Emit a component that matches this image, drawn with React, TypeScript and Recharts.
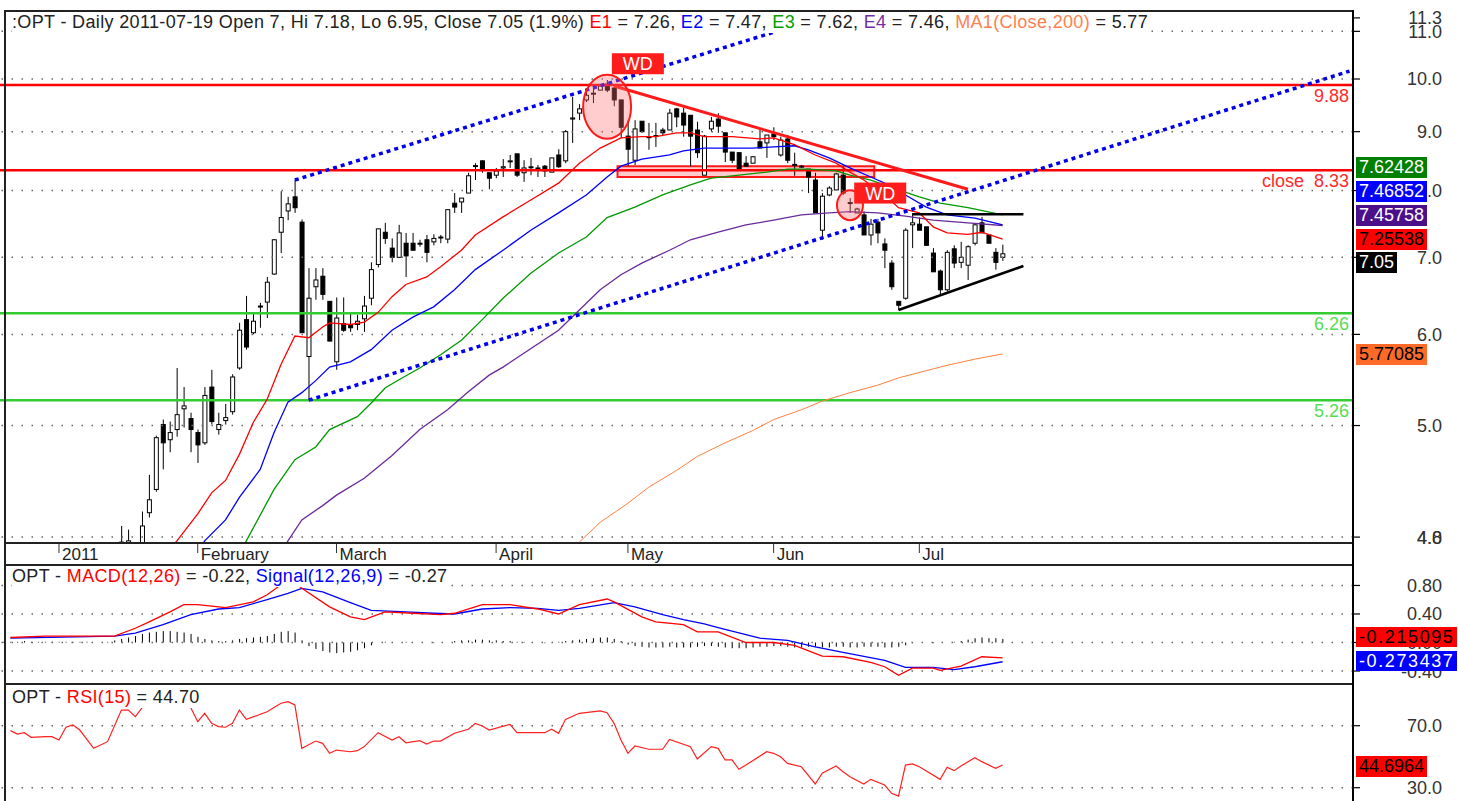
import React from 'react';
import {
  ComposedChart, Bar, Line, XAxis, YAxis, ReferenceLine, ReferenceArea, ReferenceDot,
} from 'recharts';

const FONT = '"Liberation Sans", Arial, Helvetica, sans-serif';
const W = 1458;
const AXIS_W = 105;
const SLOTS = 195; // bar slots across the panel, incl. the blank space on the right

// x axis: bar index of the first session of each month
const MONTH_IDX = [8, 28, 48, 71, 90, 111, 132];
const MONTH_LABELS = ['2011', 'February', 'March', 'April', 'May', 'Jun', 'Jul'];

// daily candles, bar 17 .. bar 144 (2011-07-19)
const FIRST_BAR = 17;
const OPEN = [
  3.95, 3.95, null, 3.92, 4.20, 4.40, 5.01, 4.86, 4.96, 5.17,
  5.07, 4.93, 4.83, 5.40, 4.96, 5.05, 5.14, 5.61, 6.18, 6.02,
  6.34, 6.40, 6.77, 7.36, 7.68, 7.90, 7.51, 5.74, 6.60, 6.74,
  6.41, 5.68, 6.13, 6.12, 6.12, 6.19, 6.45, 6.90, 7.36, 7.13,
  7.00, 7.20, 7.20, 7.19, 7.25, 7.22, 7.28, 7.26, 7.80, 7.82,
  7.96, 8.40, 8.49, 8.29, 8.25, 8.37, 8.48, 8.61, 8.29, 8.38,
  8.37, 8.40, 8.30, 8.59, 8.49, 9.23, 9.34, 9.59, 9.70, 9.78,
  9.90, 9.82, 9.59, 8.92, 8.50, 9.19, 8.90, 8.92, 9.03, 9.03,
  9.42, 9.34, 9.30, 9.03, 8.25, 9.05, 9.23, 8.98, 8.64, 8.63,
  8.45, 8.45, 8.82, 8.80, 8.96, 8.59, 8.87, 8.42, 8.39, 8.35,
  8.17, 7.39, 7.93, 8.01, 8.25, 7.80, 7.65, 7.62, 7.32, 7.51,
  7.19, 6.92, 6.41, 6.45, 7.47, 7.48, 7.44, 7.06, 6.81, 6.56,
  7.12, 6.93, 6.89, 7.20, 7.50, 7.32, 7.07, 7.00,
];
const HIGH = [
  4.09, 4.06, null, 4.21, 4.53, 4.90, 5.06, 5.04, 5.61, 5.40,
  5.13, 4.96, 5.40, 5.59, 5.13, 5.22, 5.54, 6.14, 6.48, 6.26,
  6.39, 6.73, 7.26, 7.99, 7.90, 8.17, 7.55, 6.85, 6.85, 6.85,
  6.41, 6.46, 6.46, 6.26, 6.24, 6.48, 6.93, 7.41, 7.50, 7.27,
  7.47, 7.35, 7.35, 7.25, 7.32, 7.33, 7.32, 7.70, 7.96, 7.88,
  8.29, 8.45, 8.50, 8.29, 8.37, 8.52, 8.59, 8.61, 8.50, 8.54,
  8.42, 8.42, 8.54, 8.69, 9.03, 9.65, 9.51, 9.78, 9.82, 9.88,
  9.98, 9.90, 9.59, 9.21, 9.21, 9.19, 9.16, 9.16, 9.07, 9.42,
  9.44, 9.44, 9.30, 9.18, 8.94, 9.27, 9.34, 8.98, 8.64, 8.63,
  8.57, 8.57, 9.07, 8.94, 9.08, 8.91, 8.94, 8.63, 8.42, 8.35,
  8.29, 7.96, 8.07, 8.29, 8.39, 7.88, 7.73, 7.67, 7.56, 7.56,
  7.27, 6.96, 6.41, 7.42, 7.65, 7.58, 7.44, 7.13, 6.83, 7.10,
  7.17, 7.22, 7.17, 7.48, 7.59, 7.32, 7.13, 7.18,
];
const LOW = [
  3.85, 3.88, null, 3.90, 4.16, 4.38, 4.58, 4.74, 4.89, 4.98,
  4.74, 4.64, 4.81, 5.01, 4.91, 5.01, 5.11, 5.59, 5.82, 6.00,
  6.08, 6.20, 6.76, 7.06, 7.54, 7.65, 6.02, 5.26, 6.43, 6.43,
  5.92, 5.59, 6.03, 6.03, 6.05, 6.03, 6.36, 6.86, 7.19, 6.93,
  6.99, 6.73, 7.10, 7.15, 6.93, 7.17, 7.20, 7.20, 7.65, 7.65,
  7.96, 8.17, 8.29, 8.02, 8.20, 8.22, 8.37, 8.22, 8.14, 8.25,
  8.22, 8.22, 8.30, 8.37, 8.45, 8.80, 9.21, 9.55, 9.53, 9.78,
  9.74, 9.47, 8.89, 8.40, 8.42, 8.98, 8.68, 8.73, 8.94, 9.03,
  9.08, 8.91, 8.40, 8.54, 8.25, 9.00, 8.98, 8.47, 8.45, 8.34,
  8.40, 8.45, 8.71, 8.54, 8.85, 8.56, 8.45, 8.24, 8.37, 7.96,
  7.65, 7.25, 7.91, 8.01, 7.93, 7.65, 7.65, 7.32, 7.17, 7.20,
  6.85, 6.56, 6.30, 6.43, 7.13, 7.39, 7.17, 6.80, 6.49, 6.54,
  6.85, 6.85, 6.69, 7.17, 7.35, 7.20, 6.83, 6.95,
];
const CLOSE = [
  3.96, 3.97, null, 4.09, 4.31, 4.88, 4.83, 4.93, 5.11, 5.20,
  4.96, 4.81, 5.31, 5.04, 5.01, 5.08, 5.51, 6.05, 5.85, 6.16,
  6.35, 6.66, 7.25, 7.58, 7.79, 7.73, 6.02, 6.45, 6.69, 6.50,
  5.92, 6.20, 6.05, 6.08, 6.16, 6.35, 6.83, 7.41, 7.27, 7.00,
  7.35, 7.02, 7.10, 7.20, 7.07, 7.27, 7.29, 7.70, 7.74, 7.88,
  8.24, 8.41, 8.34, 8.20, 8.32, 8.39, 8.49, 8.25, 8.37, 8.39,
  8.36, 8.32, 8.54, 8.39, 9.00, 9.25, 9.42, 9.68, 9.72, 9.86,
  9.78, 9.59, 9.08, 8.69, 9.05, 9.00, 8.91, 8.93, 8.98, 9.34,
  9.27, 9.12, 8.92, 8.63, 8.92, 9.19, 9.10, 8.64, 8.50, 8.35,
  8.40, 8.56, 8.71, 8.94, 8.91, 8.85, 8.50, 8.43, 8.40, 8.22,
  7.65, 7.91, 8.04, 8.27, 7.96, 7.81, 7.71, 7.32, 7.48, 7.35,
  7.10, 6.60, 6.36, 7.39, 7.50, 7.39, 7.17, 6.80, 6.56, 7.07,
  6.92, 7.00, 7.15, 7.47, 7.35, 7.20, 6.93, 7.05,
];

// moving averages, [bar, value]
const E1 = [[23, 3.85], [25, 3.97], [28, 4.19], [30, 4.37], [32, 4.48], [34, 4.72], [36, 5.03], [38, 5.27], [40, 5.65], [42, 5.98], [44, 5.96], [46, 6.09], [47, 6.14], [50, 6.12], [52, 6.15], [54, 6.27], [56, 6.47], [58, 6.63], [61, 6.73], [63, 6.87], [66, 7.10], [68, 7.32], [72, 7.59], [76, 7.85], [80, 8.12], [83, 8.45], [86, 8.71], [89, 8.89], [92, 8.91], [94, 8.91], [97, 8.98], [99, 8.98], [101, 8.91], [105, 8.91], [109, 8.87], [111, 8.89], [114, 8.77], [117, 8.59], [120, 8.45], [122, 8.30], [124, 8.17], [127, 7.93], [129, 7.73], [132, 7.65], [134, 7.44], [136, 7.35], [139, 7.33], [141, 7.36], [144, 7.26]];
const E2 = [[28, 3.88], [29, 3.97], [32, 4.14], [34, 4.33], [37, 4.58], [39, 4.93], [41, 5.24], [43, 5.34], [45, 5.47], [47, 5.62], [50, 5.68], [53, 5.82], [56, 6.05], [59, 6.21], [62, 6.34], [65, 6.56], [68, 6.83], [72, 7.10], [76, 7.39], [80, 7.65], [84, 7.93], [87, 8.22], [89, 8.40], [92, 8.52], [96, 8.59], [98, 8.66], [101, 8.71], [105, 8.71], [108, 8.71], [111, 8.73], [114, 8.75], [116, 8.68], [119, 8.54], [122, 8.37], [125, 8.22], [127, 8.12], [130, 7.93], [133, 7.74], [136, 7.62], [140, 7.57], [144, 7.47]];
const E3 = [[34, 3.88], [35, 3.97], [39, 4.40], [42, 4.67], [45, 4.79], [47, 4.96], [51, 5.09], [53, 5.23], [55, 5.39], [57, 5.48], [60, 5.61], [63, 5.76], [66, 5.93], [69, 6.18], [72, 6.45], [76, 6.78], [80, 7.06], [84, 7.29], [87, 7.58], [91, 7.74], [95, 7.93], [99, 8.09], [102, 8.20], [106, 8.25], [110, 8.30], [113, 8.35], [116, 8.35], [120, 8.32], [122, 8.25], [125, 8.17], [129, 8.01], [132, 7.90], [135, 7.80], [139, 7.73], [144, 7.62]];
const E4 = [[40, 3.88], [41, 3.97], [43, 4.14], [46, 4.26], [48, 4.35], [52, 4.50], [56, 4.71], [60, 4.96], [64, 5.16], [67, 5.35], [70, 5.53], [72, 5.62], [80, 6.05], [83, 6.30], [86, 6.56], [89, 6.76], [92, 6.92], [96, 7.10], [99, 7.25], [103, 7.36], [107, 7.47], [111, 7.54], [115, 7.62], [119, 7.65], [122, 7.67], [126, 7.65], [130, 7.60], [134, 7.54], [139, 7.50], [144, 7.46]];
const MA200 = [[81, 3.88], [83, 3.96], [86, 4.12], [90, 4.28], [93, 4.42], [97, 4.57], [100, 4.70], [104, 4.83], [108, 4.95], [111, 5.06], [115, 5.16], [118, 5.25], [122, 5.34], [126, 5.42], [129, 5.50], [133, 5.58], [136, 5.64], [140, 5.71], [144, 5.77]];

// MACD pane
const MACD = [[1, 0.07], [6, 0.09], [16, 0.09], [19, 0.20], [21, 0.29], [24, 0.43], [26, 0.53], [28, 0.53], [32, 0.49], [36, 0.57], [38, 0.67], [40, 0.81], [42, 0.84], [43, 0.76], [47, 0.50], [50, 0.36], [52, 0.32], [55, 0.43], [59, 0.41], [63, 0.39], [65, 0.41], [69, 0.53], [73, 0.53], [77, 0.47], [80, 0.40], [83, 0.53], [87, 0.61], [88, 0.57], [92, 0.36], [94, 0.29], [98, 0.25], [100, 0.15], [103, 0.15], [107, 0.00], [111, 0.00], [114, -0.04], [118, -0.19], [121, -0.20], [125, -0.28], [127, -0.34], [128, -0.40], [129, -0.46], [131, -0.36], [134, -0.36], [135, -0.39], [138, -0.33], [141, -0.20], [144, -0.215]];
const SIGNAL = [[1, 0.06], [16, 0.09], [19, 0.13], [23, 0.25], [27, 0.39], [31, 0.47], [34, 0.49], [38, 0.60], [41, 0.69], [43, 0.76], [46, 0.71], [50, 0.56], [53, 0.45], [58, 0.43], [62, 0.41], [65, 0.40], [69, 0.47], [73, 0.49], [77, 0.48], [80, 0.45], [83, 0.48], [88, 0.56], [91, 0.50], [95, 0.39], [98, 0.32], [101, 0.26], [103, 0.21], [109, 0.06], [113, 0.03], [117, -0.06], [121, -0.14], [127, -0.25], [130, -0.35], [134, -0.35], [137, -0.38], [140, -0.34], [144, -0.27]];
// histogram, bar 0 .. 144
const HIST = [
  0.01, 0.01, 0.01, 0.02, 0.01, 0.01, 0.01, 0.01, 0.01, 0.01, 0.01, 0.01, 0.01, 0.00, 0.00, 0.01,
  0.03, 0.05, 0.07, 0.09, 0.12, 0.14, 0.15, 0.16, 0.16, 0.15, 0.14, 0.12,
  0.08, 0.05, 0.03, 0.02, 0.02, 0.03,
  0.05, 0.06, 0.07, 0.08, 0.09,
  0.12, 0.15, 0.16, 0.14,
  0.03,
  -0.05, -0.09, -0.12, -0.14, -0.15, -0.14, -0.13, -0.11, -0.08, -0.04,
  0.00, 0.01, 0.00, 0.00, 0.01, 0.00, 0.00, 0.00, -0.01, 0.00, 0.00,
  0.02, 0.03, 0.03, 0.04, 0.04, 0.03, 0.03, 0.02, 0.02, 0.01, 0.01, 0.00, 0.00, -0.01, 0.00, 0.01, 0.02, 0.03, 0.04,
  0.05, 0.06, 0.07, 0.07, 0.05, 0.02,
  -0.03, -0.05, -0.06, -0.07, -0.07, -0.07, -0.06, -0.07, -0.07, -0.07, -0.06,
  -0.05, -0.05, -0.06, -0.07, -0.08, -0.08, -0.08, -0.07, -0.06, -0.06, -0.05, -0.05, -0.06, -0.07, -0.07,
  -0.06, -0.06, -0.07, -0.07, -0.06, -0.06, -0.07, -0.07, -0.06, -0.06, -0.06, -0.07, -0.07, -0.06, -0.04,
  -0.01, 0.00, 0.00, -0.01, 0.00, 0.00, 0.01,
  0.02, 0.04, 0.06, 0.07, 0.06, 0.06, 0.05,
];

// RSI pane (the line has a break after bar 20)
const RSI_A = [[1, 66.8], [2, 64.6], [3, 65.5], [4, 62.5], [6, 62.9], [7, 62.9], [8, 60.8], [9, 69.0], [10, 70.5], [11, 67.2], [13, 55.4], [15, 59.7], [17, 80.1], [18, 80.1], [19, 75.8], [20, 81.6]];
const RSI_B = [[27, 81.6], [28, 72.6], [29, 78.0], [30, 71.5], [31, 69.4], [32, 69.0], [33, 71.5], [34, 80.1], [35, 74.1], [38, 79.0], [40, 84.5], [41, 85.5], [42, 83.4], [43, 55.4], [45, 60.1], [46, 58.6], [47, 52.2], [48, 54.3], [50, 53.2], [51, 53.9], [52, 56.5], [54, 65.5], [56, 60.8], [57, 62.9], [58, 59.0], [60, 60.3], [61, 58.2], [62, 60.1], [63, 60.1], [65, 65.1], [67, 67.7], [68, 71.5], [69, 69.8], [70, 67.2], [73, 70.9], [74, 65.5], [78, 65.5], [79, 67.7], [80, 65.1], [81, 74.1], [83, 78.0], [86, 79.5], [87, 78.4], [88, 71.5], [89, 60.8], [90, 52.2], [91, 56.9], [93, 54.8], [95, 54.8], [96, 61.2], [99, 56.5], [100, 48.5], [102, 56.5], [103, 55.4], [104, 47.9], [105, 47.9], [106, 41.9], [107, 44.6], [110, 53.2], [111, 52.2], [112, 50.0], [113, 45.7], [115, 43.5], [117, 32.4], [118, 39.3], [120, 44.0], [121, 40.3], [122, 37.1], [124, 32.4], [125, 35.4], [127, 31.7], [128, 26.4], [129, 24.6], [130, 44.6], [131, 45.3], [132, 43.5], [135, 35.4], [136, 43.2], [137, 41.0], [138, 44.0], [140, 49.4], [141, 46.8], [143, 42.5], [144, 44.7]];

// axis ticks
const PRICE_TICKS = [4, 5, 6, 7, 8, 9, 10, 11, 11.3];
const PRICE_GRID = [4, 5, 6, 7, 8, 9, 10, 11];
const MACD_TICKS = [0.8, 0.4, 0, -0.4];
const RSI_TICKS = [70, 30];

// drawn studies
const LEVELS = [
  { y: 9.88, color: '#ff0000', text: '9.88', textColor: '#ff2a2a' },
  { y: 8.33, color: '#ff0000', text: 'close\u00a0\u00a08.33', textColor: '#ff2a2a' },
  { y: 6.26, color: '#33cc33', text: '6.26', textColor: '#55dd55' },
  { y: 5.26, color: '#33cc33', text: '5.26', textColor: '#55dd55' },
];
const TRENDS = [
  { a: [42, 8.17], b: [111, 10.98], color: '#0000ee', w: 3.5, dash: '4 4' },
  { a: [44, 5.26], b: [194, 10.16], color: '#0000ee', w: 3.5, dash: '4 4' },
  { a: [88, 9.86], b: [139, 8.02], color: '#ff1a1a', w: 3, dash: undefined },
  { a: [131, 7.63], b: [147, 7.63], color: '#000000', w: 2.5, dash: undefined },
  { a: [129, 6.30], b: [147, 6.88], color: '#000000', w: 2.5, dash: undefined },
];

// value tags on the right axis
const TAGS = [
  { text: '7.62428', bg: '#008000', fg: '#fff', top: 157, wide: false },
  { text: '7.46852', bg: '#0000ff', fg: '#fff', top: 181, wide: false },
  { text: '7.45758', bg: '#4b0f8c', fg: '#fff', top: 205, wide: false },
  { text: '7.25538', bg: '#ff0000', fg: '#000', top: 229, wide: false },
  { text: '7.05', bg: '#000000', fg: '#fff', top: 252, wide: false },
  { text: '5.77085', bg: '#ff6a28', fg: '#000', top: 344, wide: false },
  { text: '-0.215095', bg: '#ff0000', fg: '#000', top: 627, wide: true },
  { text: '-0.273437', bg: '#0000ff', fg: '#fff', top: 651, wide: true },
  { text: '44.6964', bg: '#ff0000', fg: '#000', top: 756, wide: false },
];

const TITLE = [
  [':OPT - Daily 2011-07-19 Open 7, Hi 7.18, Lo 6.95, Close 7.05 (1.9%) ', '#222'],
  ['E1', '#ff0000'], [' = 7.26, ', '#222'],
  ['E2', '#0000ff'], [' = 7.47, ', '#222'],
  ['E3', '#00a000'], [' = 7.62, ', '#222'],
  ['E4', '#7030a0'], [' = 7.46, ', '#222'],
  ['MA1(Close,200)', '#ff7f50'], [' = 5.77', '#222'],
];
const MACD_TITLE = [['OPT - ', '#222'], ['MACD(12,26)', '#ff0000'], [' = -0.22, ', '#222'], ['Signal(12,26,9)', '#0000ff'], [' = -0.27', '#222']];
const RSI_TITLE = [['OPT - ', '#222'], ['RSI(15)', '#ff0000'], [' = 44.70', '#222']];

// one row per bar slot
const rows: any[] = Array.from({ length: SLOTS }, (_, i) => ({ i }));
OPEN.forEach((o, k) => {
  if (o == null) return;
  const r = rows[FIRST_BAR + k];
  r.o = o; r.h = HIGH[k]; r.l = LOW[k]; r.c = CLOSE[k];
  r.hl = [LOW[k], HIGH[k]];
});
const put = (pts: number[][], key: string) => pts.forEach(([i, v]) => { rows[i][key] = v; });
put(E1, 'e1'); put(E2, 'e2'); put(E3, 'e3'); put(E4, 'e4'); put(MA200, 'ma');
put(MACD, 'macd'); put(SIGNAL, 'signal'); put(RSI_A, 'rsiA'); put(RSI_B, 'rsiB');
HIST.forEach((v, i) => { rows[i].hist = v; });

const Candle = (p: any) => {
  const d = p.payload;
  if (!d || d.o == null) return null;
  const top = Math.min(p.y, p.y + p.height);
  const bot = Math.max(p.y, p.y + p.height);
  const lh = Math.log(d.h);
  const ll = Math.log(d.l);
  // position inside the high-low range on the log price scale
  const at = (v: number) => (lh === ll ? top : top + ((bot - top) * (lh - Math.log(v))) / (lh - ll));
  const cx = p.x + p.width / 2;
  const yo = at(d.o);
  const yc = at(d.c);
  return (
    <g>
      <line x1={cx} x2={cx} y1={top} y2={bot} stroke="#000" strokeWidth={1} />
      <rect x={cx - 2} y={Math.min(yo, yc)} width={4} height={Math.max(Math.abs(yc - yo), 1)}
        fill={d.c >= d.o ? '#fff' : '#000'} stroke="#000" strokeWidth={1} />
    </g>
  );
};

const HistBar = (p: any) => {
  const cx = p.x + p.width / 2;
  return <line x1={cx} x2={cx} y1={Math.min(p.y, p.y + p.height)} y2={Math.max(p.y, p.y + p.height)} stroke="#000" strokeWidth={1} />;
};

const makeTick = (digits: number) => (p: any) => {
  const v = p.payload.value;
  return (
    <g>
      <line x1={1352} x2={1360} y1={p.y} y2={p.y} stroke="#000" strokeWidth={1.2} />
      <text x={1442} y={p.y + 6.5} textAnchor="end" fontSize={18} fill="#333">{v.toFixed(digits)}</text>
      {v === 4 && <text x={1442} y={p.y + 6.5} textAnchor="end" fontSize={18} fill="#333">4.8</text>}
    </g>
  );
};
const PriceTick = makeTick(1);
const MacdTick = makeTick(2);
const RsiTick = makeTick(1);

const MonthTick = (p: any) => (
  <g>
    <line x1={p.x} x2={p.x} y1={p.y} y2={p.y + 10} stroke="#333" strokeWidth={1} />
    <text x={p.x + 3} y={p.y + 17} fontSize={17} fill="#222">{MONTH_LABELS[MONTH_IDX.indexOf(p.payload.value)]}</text>
  </g>
);

const Ellipse = (p: any) => (
  <ellipse cx={p.cx} cy={p.cy} rx={24} ry={32} fill="#ff7070" fillOpacity={0.35} stroke="#ff1a1a" strokeWidth={2} />
);
const SmallRing = (p: any) => (
  <ellipse cx={p.cx} cy={p.cy} rx={13} ry={15} fill="#ff7070" fillOpacity={0.35} stroke="#ff1a1a" strokeWidth={2} />
);
const wdBox = (dx: number) => (p: any) => (
  <g>
    <rect x={p.cx + dx - 26} y={p.cy - 10.5} width={52} height={21} fill="#ff1c1c" />
    <text x={p.cx + dx} y={p.cy + 6.5} textAnchor="middle" fill="#fff" fontSize={18}>WD</text>
  </g>
);

const dotted = { stroke: '#666', strokeWidth: 1.5, strokeDasharray: '1.5 8.5' };
const noMargin = { top: 0, right: 0, bottom: 0, left: 0 };

const Title = ({ parts, top }: { parts: string[][]; top: number }) => (
  <div style={{ position: 'absolute', left: 12, top, fontSize: 18, letterSpacing: '0.35px', lineHeight: '21px', whiteSpace: 'pre', background: '#fff' }}>
    {parts.map(([t, c], k) => <span key={k} style={{ color: c }}>{t}</span>)}
  </div>
);

const rule = (style: React.CSSProperties) => <div style={{ position: 'absolute', background: '#222', ...style }} />;

export default function App() {
  return (
    <div style={{ position: 'absolute', left: 0, top: 0, width: W, height: 801, background: '#fff', overflow: 'hidden', fontFamily: FONT }}>
      <div style={{ position: 'absolute', left: 0, top: 11 }}>
        <ComposedChart width={W} height={554} data={rows} margin={noMargin}>
          <XAxis dataKey="i" scale="band" ticks={MONTH_IDX} interval={0} height={22} tickSize={0} tickMargin={0}
            axisLine={false} tickLine={false} tick={MonthTick} />
          <YAxis orientation="right" width={AXIS_W} scale="log" domain={[3.953, 11.457]} allowDataOverflow
            ticks={PRICE_TICKS} interval={0} axisLine={false} tickLine={false} tick={PriceTick} />
          {PRICE_GRID.map((v) => <ReferenceLine key={v} y={v} {...dotted} />)}
          {LEVELS.map((l) => (
            <ReferenceLine key={l.y} y={l.y} stroke={l.color} strokeWidth={2.5}
              label={{ value: l.text, position: 'insideTopRight', offset: 4, fill: l.textColor, fontSize: 18 }} />
          ))}
          <ReferenceArea x1={89} x2={125} y1={8.22} y2={8.40} fill="#ff7070" fillOpacity={0.35} stroke="#ff1a1a" strokeWidth={2} />
          <ReferenceDot x={87} y={9.46} r={24} shape={Ellipse} />
          <ReferenceDot x={122} y={7.77} r={13} shape={SmallRing} />
          <Bar dataKey="hl" shape={Candle} isAnimationActive={false} />
          <Line dataKey="ma" stroke="#ff8040" strokeWidth={1} dot={false} connectNulls isAnimationActive={false} />
          <Line dataKey="e4" stroke="#6a2a9a" strokeWidth={1.3} dot={false} connectNulls isAnimationActive={false} />
          <Line dataKey="e3" stroke="#009900" strokeWidth={1.3} dot={false} connectNulls isAnimationActive={false} />
          <Line dataKey="e2" stroke="#0000ff" strokeWidth={1.3} dot={false} connectNulls isAnimationActive={false} />
          <Line dataKey="e1" stroke="#ff0000" strokeWidth={1.3} dot={false} connectNulls isAnimationActive={false} />
          {TRENDS.map((t, k) => (
            <ReferenceLine key={k} segment={[{ x: t.a[0], y: t.a[1] }, { x: t.b[0], y: t.b[1] }]}
              stroke={t.color} strokeWidth={t.w} strokeDasharray={t.dash} />
          ))}
          <ReferenceDot x={91} y={10.31} r={10} shape={wdBox(3)} />
          <ReferenceDot x={126} y={7.96} r={10} shape={wdBox(2.5)} />
        </ComposedChart>
      </div>

      <div style={{ position: 'absolute', left: 0, top: 565 }}>
        <ComposedChart width={W} height={118} data={rows} margin={noMargin}>
          <XAxis dataKey="i" scale="band" hide />
          <YAxis orientation="right" width={AXIS_W} domain={[-0.568, 1.087]} allowDataOverflow
            ticks={MACD_TICKS} interval={0} axisLine={false} tickLine={false} tick={MacdTick} />
          {MACD_TICKS.map((v) => <ReferenceLine key={v} y={v} {...dotted} />)}
          <Bar dataKey="hist" shape={HistBar} isAnimationActive={false} />
          <Line dataKey="signal" stroke="#0000ff" strokeWidth={1.3} dot={false} connectNulls isAnimationActive={false} />
          <Line dataKey="macd" stroke="#ff0000" strokeWidth={1.3} dot={false} connectNulls isAnimationActive={false} />
        </ComposedChart>
      </div>

      <div style={{ position: 'absolute', left: 0, top: 685 }}>
        <ComposedChart width={W} height={120} data={rows} margin={noMargin}>
          <XAxis dataKey="i" scale="band" hide />
          <YAxis orientation="right" width={AXIS_W} domain={[18.84, 96.26]} allowDataOverflow
            ticks={RSI_TICKS} interval={0} axisLine={false} tickLine={false} tick={RsiTick} />
          {RSI_TICKS.map((v) => <ReferenceLine key={v} y={v} {...dotted} />)}
          <Line dataKey="rsiA" stroke="#ff2020" strokeWidth={1.2} dot={false} connectNulls isAnimationActive={false} />
          <Line dataKey="rsiB" stroke="#ff2020" strokeWidth={1.2} dot={false} connectNulls isAnimationActive={false} />
        </ComposedChart>
      </div>

      {/* pane frame */}
      {rule({ left: 4, top: 10, width: 2, height: 791 })}
      {rule({ left: 4, top: 10, width: 1350, height: 2 })}
      {rule({ left: 4, top: 542, width: 1350, height: 2 })}
      {rule({ left: 4, top: 564, width: 1350, height: 2 })}
      {rule({ left: 4, top: 683, width: 1350, height: 2 })}
      {rule({ left: 1352, top: 10, width: 1.5, height: 791, background: '#000' })}

      <Title parts={TITLE} top={12} />
      <Title parts={MACD_TITLE} top={566} />
      <Title parts={RSI_TITLE} top={687} />

      {TAGS.map((t) => (
        <div key={t.text} style={{
          position: 'absolute', left: 1356, top: t.top, height: t.wide ? 20 : 21, lineHeight: t.wide ? '20px' : '21px',
          padding: '0 3px', background: t.bg, color: t.fg, fontSize: 18, whiteSpace: 'pre',
          letterSpacing: t.wide ? '1.6px' : '0px',
        }}>{t.text}</div>
      ))}
    </div>
  );
}
